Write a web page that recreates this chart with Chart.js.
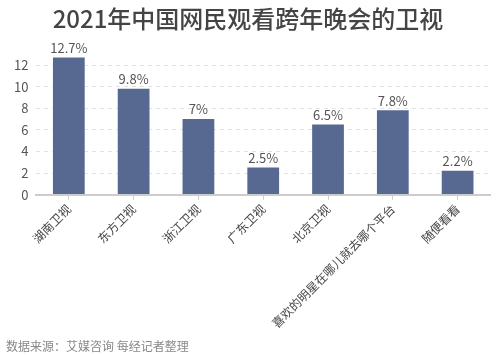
<!DOCTYPE html>
<html><head><meta charset="utf-8">
<script src="https://cdn.jsdelivr.net/npm/chart.js@4/dist/chart.umd.min.js"></script>
<style>html,body{margin:0;padding:0;background:#fff}#wrap{width:499px;height:355px}</style>
</head><body><div id="wrap"><canvas id="c"></canvas></div>
<script>
const categories = ["湖南卫视","东方卫视","浙江卫视","广东卫视","北京卫视","喜欢的明星在哪儿就去哪个平台","随便看看"];
const values = [12.7, 9.8, 7, 2.5, 6.5, 7.8, 2.2];
const titleText = "2021年中国网民观看跨年晚会的卫视";
const sourceText = "数据来源：艾媒咨询 每经记者整理";
const FONT = "'Noto Sans CJK SC','Noto Sans',sans-serif";

const labelPlugin = {
  id: 'valLabels',
  afterDatasetsDraw(chart) {
    const ctx = chart.ctx;
    const meta = chart.getDatasetMeta(0);
    ctx.save();
    ctx.font = "13px " + FONT;
    ctx.fillStyle = "#555";
    ctx.textAlign = "center";
    ctx.textBaseline = "bottom";
    meta.data.forEach((bar, i) => {
      ctx.fillText(values[i] + "%", bar.x, bar.y - 3);
    });
    ctx.restore();
  }
};

new Chart(document.getElementById('c'), {
  type: 'bar',
  data: {
    labels: categories,
    datasets: [{
      data: values,
      backgroundColor: '#576891',
      barPercentage: 0.49,
      categoryPercentage: 1
    }]
  },
  options: {
    responsive: true,
    maintainAspectRatio: false,
    animation: false,
    layout: { padding: { left: 6, right: 9, top: 0, bottom: 1 } },
    plugins: {
      legend: { display: false },
      tooltip: { enabled: false },
      title: {
        display: true, text: titleText, color: '#444',
        font: { family: FONT, size: 24, weight: '500' },
        padding: { top: 4, bottom: 16 }
      },
      subtitle: {
        display: true, text: sourceText, position: 'bottom', align: 'start',
        color: '#888', font: { family: FONT, size: 12 },
        padding: { top: 7, bottom: 0 }
      }
    },
    scales: {
      x: {
        grid: { display: true, drawOnChartArea: false, drawTicks: true, tickLength: 5, color: '#ccc', offset: false },
        border: { color: '#ccc', width: 2 },
        ticks: { color: '#444', font: { family: FONT, size: 12 }, maxRotation: 45, minRotation: 45, autoSkip: false, padding: 2 }
      },
      y: {
        min: 0, max: 13.5,
        afterBuildTicks(axis) { axis.ticks = [0,2,4,6,8,10,12].map(v => ({ value: v })); },
        grid: { color: '#e3e3e3', drawTicks: false },
        border: { display: false, dash: [4,4] },
        ticks: { color: '#555', font: { family: FONT, size: 13 }, padding: 8 }
      }
    }
  },
  plugins: [labelPlugin]
});
</script></body></html>
